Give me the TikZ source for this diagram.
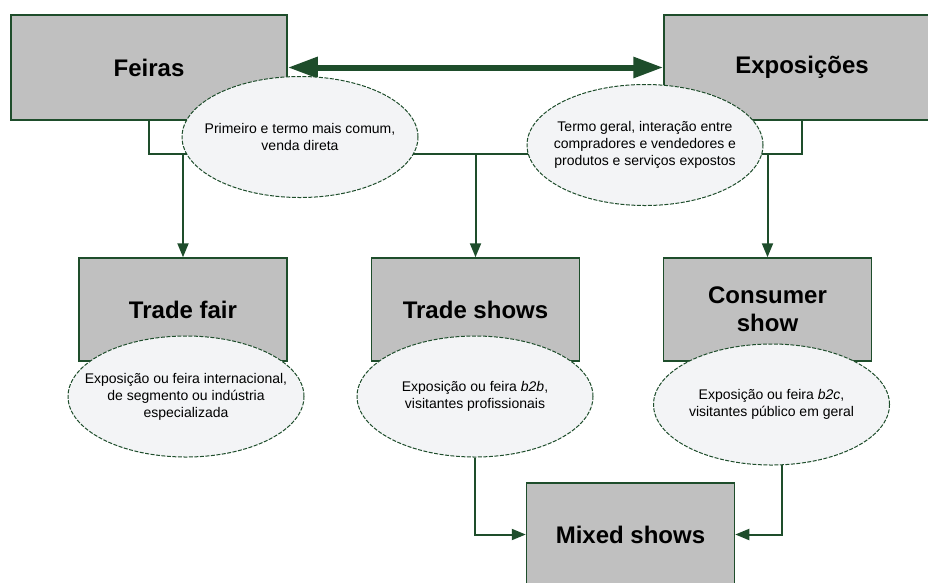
\documentclass[tikz,border=0pt]{standalone}
\usepackage{fontspec}
\setmainfont{Liberation Sans}
\usetikzlibrary{arrows.meta,shapes.geometric}
\definecolor{dgreen}{HTML}{1E4D2B}
\definecolor{boxgray}{HTML}{C0C0C0}
\definecolor{ovalfill}{HTML}{F3F4F6}

\begin{document}
\begin{tikzpicture}[x=1pt,y=-1pt,>={Triangle[length=14pt,width=11pt]}]
\tikzstyle{hd}=[rectangle,draw=dgreen,line width=1.5pt,fill=boxgray,minimum width=208pt,minimum height=103pt,inner sep=0pt,align=center,font=\fontsize{24}{28}\selectfont\bfseries]
\tikzstyle{nt}=[ellipse,draw=dgreen,dash pattern=on 4pt off 1.5pt,line width=1pt,fill=ovalfill,minimum width=236pt,minimum height=121pt,inner xsep=-22pt,inner ysep=0pt,align=center,font=\fontsize{14}{17}\selectfont]
\tikzstyle{ln}=[draw=dgreen,line width=2pt]
\useasboundingbox (0,0) rectangle (928,582);
\clip (0,0) rectangle (928,582);
% boxes
\node[hd,minimum width=276pt,minimum height=105pt] (feiras) at (149,67.5) {Feiras};
\node[hd,minimum width=276pt,minimum height=105pt] (expo) at (802,67.5) {Exposições};
\node[hd] (tfair) at (183,309.5) {Trade fair};
\node[hd] (tshows) at (475.5,309.5) {Trade shows};
\node[hd] (cshow) at (767.5,309.5) {Consumer\\show};
\node[hd] (mixed) at (630.5,534.5) {Mixed shows};
% connectors
\coordinate (jr) at (802,154);
\draw[ln,line width=6pt,{Triangle[length=30pt,width=20pt]}-{Triangle[length=30pt,width=20pt]}] (feiras.east) -- (expo.west);
\draw[ln] (feiras.south) |- (jr) -- (expo.south);
\draw[ln,->] (tfair.north |- jr) -- (tfair.north);
\draw[ln,->] (tshows.north |- jr) -- (tshows.north);
\draw[ln,->] (cshow.north |- jr) -- (cshow.north);
% notes
\node[nt] (feirasN) at (300,137) {Primeiro e termo mais comum,\\venda direta};
\node[nt] (expoN) at (645,145) {Termo geral, interação entre\\compradores e vendedores e\\produtos e serviços expostos};
\node[nt] (tfairN) at (186,396.5) {Exposição ou feira internacional,\\de segmento ou indústria\\especializada};
\node[nt] (tshowsN) at (475,396.5) {Exposição ou feira \textit{b2b},\\visitantes profissionais};
\node[nt] (cshowN) at (771.5,404.5) {Exposição ou feira \textit{b2c},\\visitantes público em geral};
\draw[ln,->] (tshowsN.south) |- (mixed.west);
\draw[ln,->] (cshowN.-80) |- (mixed.east);
\end{tikzpicture}
\end{document}
